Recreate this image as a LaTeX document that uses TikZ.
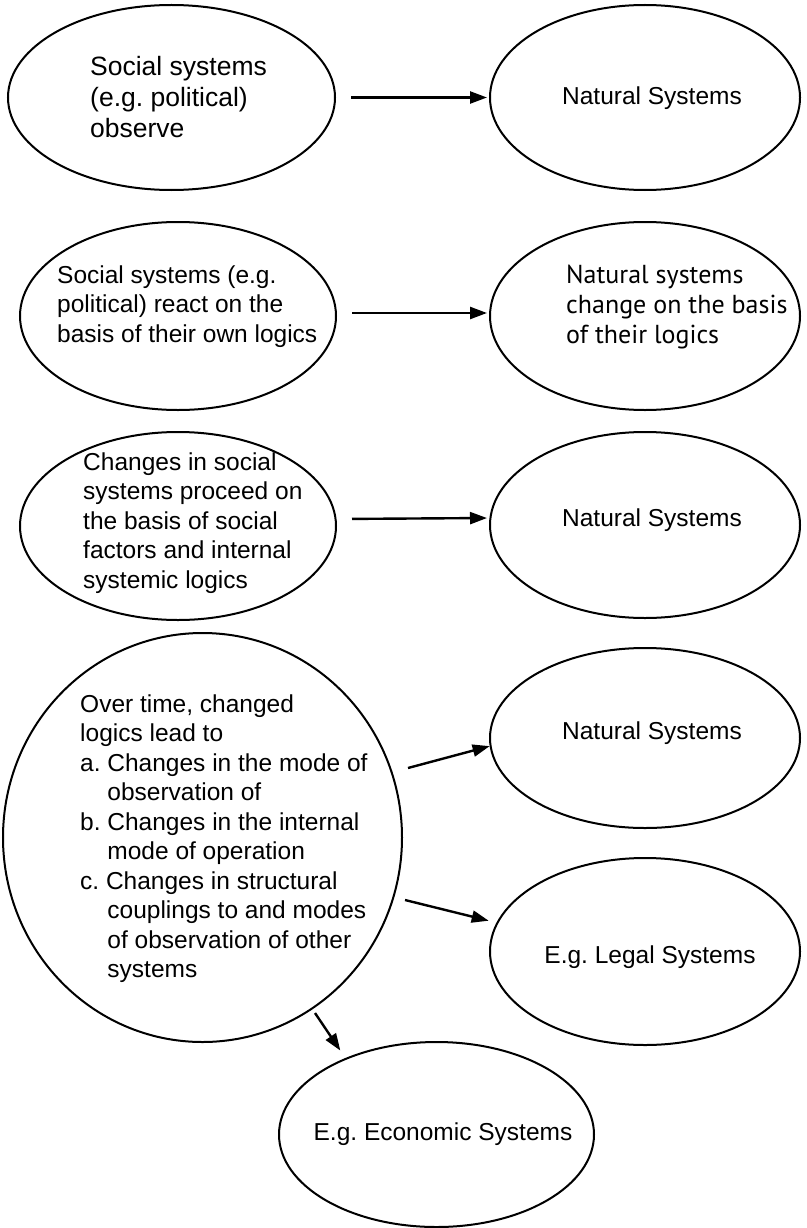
\documentclass[tikz,border=0pt]{standalone}
\usepackage{fontspec}
\setmainfont{Liberation Sans}
\newfontfamily\myriadlike{PT Sans}
\usetikzlibrary{shapes.geometric,arrows.meta}
\frenchspacing
\newcommand\mylines[1]{\begin{tabular}[t]{@{}l@{}}#1\end{tabular}}
\begin{document}
\begin{tikzpicture}[x=1pt,y=-1pt,
  ell/.style={ellipse, draw, line width=2pt, inner sep=0pt},
  txt/.style={anchor=base west, inner sep=0pt, font=\fontsize{24.5}{29.5}\selectfont},
  bigtxt/.style={anchor=base west, inner sep=0pt, font=\fontsize{26.5}{31}\selectfont},
  ctxt/.style={anchor=base, inner sep=0pt, font=\fontsize{24.5}{29.5}\selectfont},
  mtxt/.style={anchor=base west, inner sep=0pt, font=\myriadlike\fontsize{26}{30}\selectfont},
  arr/.style={line width=2.4pt, -{Triangle[length=17pt,width=12pt]}}]
\useasboundingbox (0,0) rectangle (806,1228);
\fill[white] (0,0) rectangle (806,1228);
% ellipses
\node[ell, minimum width=327pt, minimum height=185pt] (L1) at (171.5,97.5) {};
\node[ell, minimum width=310pt, minimum height=185pt] (R1) at (645,97.5) {};
\node[ell, minimum width=316pt, minimum height=188pt] (L2) at (178,316) {};
\node[ell, minimum width=310pt, minimum height=188pt] (R2) at (645,316) {};
\node[ell, minimum width=316pt, minimum height=188pt] (L3) at (178,526) {};
\node[ell, minimum width=310pt, minimum height=186pt] (R3) at (645,525) {};
\node[ell, minimum width=399pt, minimum height=409pt] (L4) at (202.5,837.5) {};
\node[ell, minimum width=310pt, minimum height=180pt] (R4) at (645,738) {};
\node[ell, minimum width=310pt, minimum height=187pt] (LG) at (645,951.5) {};
\node[ell, minimum width=315pt, minimum height=185pt] (EC) at (436.5,1134.5) {};
% texts
\node[bigtxt] (t1) at (90,76) {\mylines{Social systems\\(e.g. political)\\observe}};
\node[ctxt] (u1) at (652,105) {Natural Systems};
\node[txt] (t2) at (57,283) {\mylines{Social systems (e.g.\\political) react on the\\basis of their own logics}};
\node[mtxt] (u2) at (566,283) {\mylines{Natural systems\\change on the basis\\of their logics}};
\node[txt] (t3) at (83,470) {\mylines{Changes in social\\systems proceed on\\the basis of social\\factors and internal\\systemic logics}};
\node[ctxt] (u3) at (652,526) {Natural Systems};
\node[txt] (t4) at (80,712) {\mylines{Over time, changed\\logics lead to\\a. Changes in the mode of\\\hphantom{a.\ }observation of\\b. Changes in the internal\\\hphantom{a.\ }mode of operation\\c. Changes in structural\\\hphantom{a.\ }couplings to and modes\\\hphantom{a.\ }of observation of other\\\hphantom{a.\ }systems}};
\node[ctxt] (u4) at (652,739) {Natural Systems};
\node[ctxt] (u5) at (650,963) {E.g. Legal Systems};
\node[ctxt] (u6) at (443,1140) {E.g. Economic Systems};
% arrows
\draw[arr, shorten <=15pt, shorten >=2pt] (L1.east) -- (R1.west);
\draw[arr, shorten <=15pt, shorten >=2pt] ([yshift=3pt]L2.east) -- ([yshift=3pt]R2.west);
\draw[arr, shorten <=15pt, shorten >=2pt] ([yshift=7pt]L3.east) -- ([yshift=7pt]R3.west);
\coordinate (s4) at (408,768);
\coordinate (s5) at (405,900);
\coordinate (s6) at (315,1013);
\draw[arr] (s4) -- (R4.183);
\draw[arr, shorten >=8pt] (s5) -- (LG.169);
\draw[arr, shorten >=9pt] (s6) -- (EC.140);
\end{tikzpicture}
\end{document}
